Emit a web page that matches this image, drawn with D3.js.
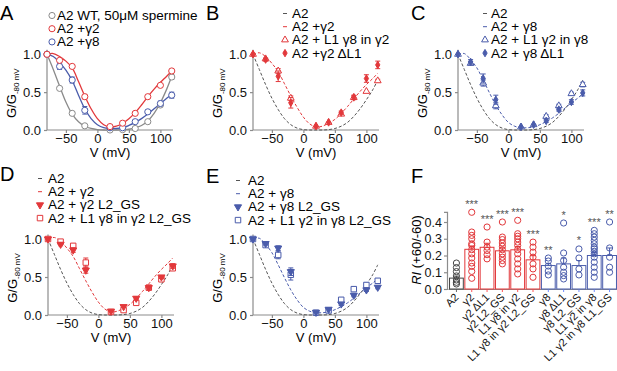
<!DOCTYPE html>
<html>
<head>
<meta charset="utf-8">
<script src="https://cdn.jsdelivr.net/npm/d3@7"></script>
<style>
  body { margin: 0; background: #fff; }
  svg { font-family: Arial, "Liberation Sans", Helvetica, sans-serif; }
</style>
</head>
<body>
<div id="chart-area"></div>
<script>
// ---------- Data ----------
const voltages = [-80, -60, -40, -20, 20, 40, 60, 80, 100, 118];
const fitVoltages = [-80, -70, -60, -50, -40, -30, -20, -10, 0, 10, 20, 30, 40, 50, 60, 70, 80, 90, 100, 110, 118];
const vTicks = [-50, 0, 50, 100];
const gTicks = [0, 0.5, 1];

// Panel A
const wtSpermine = [1.0, 0.55, 0.22, 0.055, 0.0, 0.005, 0.02, 0.11, 0.33, 0.70];
const wtSpermineErr = [0, 0.01, 0.01, 0.01, 0, 0, 0.01, 0.01, 0.02, 0.03];
const aGamma2 = [1.0, 0.92, 0.84, 0.44, 0.045, 0.09, 0.22, 0.44, 0.59, 0.78];
const aGamma2Err = [0, 0.02, 0.02, 0.03, 0.01, 0.01, 0.01, 0.01, 0.02, 0.02];
const aGamma8 = [1.0, 0.84, 0.66, 0.26, 0.03, 0.03, 0.11, 0.24, 0.35, 0.46];
const aGamma8Err = [0, 0.04, 0.04, 0.05, 0.01, 0.01, 0.02, 0.02, 0.03, 0.04];
const fitWtSpermine = [1.0, 0.8, 0.58, 0.37, 0.21, 0.11, 0.05, 0.02, 0.005, 0, 0, 0, 0.005, 0.01, 0.03, 0.06, 0.12, 0.22, 0.36, 0.54, 0.71];
const fitGamma2 = [1.0, 1.01, 0.97, 0.91, 0.82, 0.64, 0.45, 0.28, 0.15, 0.07, 0.04, 0.05, 0.09, 0.15, 0.23, 0.33, 0.44, 0.54, 0.63, 0.71, 0.78];
const fitGamma8 = [1.0, 0.97, 0.89, 0.79, 0.65, 0.46, 0.28, 0.15, 0.07, 0.03, 0.02, 0.02, 0.03, 0.06, 0.1, 0.15, 0.21, 0.28, 0.35, 0.42, 0.47];

// dashed reference fits (B-E)
const fitA2 = [1.0, 0.8, 0.6, 0.42, 0.27, 0.15, 0.07, 0.025, 0.005, 0, 0, 0, 0.005, 0.02, 0.05, 0.1, 0.18, 0.28, 0.4, 0.53, 0.66];
const fitG2Dash = [1.0, 1.02, 0.97, 0.88, 0.77, 0.61, 0.45, 0.3, 0.17, 0.08, 0.04, 0.05, 0.09, 0.14, 0.22, 0.31, 0.41, 0.51, 0.6, 0.68, 0.75];
const fitG8Dash = [1.0, 1.01, 0.93, 0.82, 0.66, 0.49, 0.33, 0.2, 0.1, 0.05, 0.03, 0.03, 0.04, 0.07, 0.11, 0.16, 0.22, 0.29, 0.36, 0.42, 0.48];

// Panel B
const bL1g8InG2 = [1.0, 0.94, 0.78, 0.42, 0.05, 0.1, 0.21, 0.43, 0.51, 0.65];
const bL1g8InG2Err = [0, 0.01, 0.03, 0.03, 0.01, 0.01, 0.01, 0.02, 0.01, 0.02];
const bG2dL1 = [1.0, 0.93, 0.71, 0.36, 0.05, 0.1, 0.23, 0.43, 0.68, 0.86];
const bG2dL1Err = [0, 0.02, 0.07, 0.07, 0.01, 0.01, 0.02, 0.03, 0.05, 0.05];

// Panel C
const cL1g2InG8 = [1.0, 0.88, 0.62, 0.32, 0.04, 0.07, 0.18, 0.32, 0.48, 0.6];
const cL1g2InG8Err = [0, 0.02, 0.04, 0.04, 0.01, 0.01, 0.02, 0.02, 0.02, 0.03];
const cG8dL1 = [1.0, 0.9, 0.68, 0.4, 0.04, 0.07, 0.12, 0.27, 0.37, 0.49];
const cG8dL1Err = [0, 0.03, 0.06, 0.06, 0.01, 0.01, 0.02, 0.02, 0.03, 0.04];

// Panel D
const dG2L2gs = [1.0, 0.93, 0.855, 0.59, 0.05, 0.11, 0.22, 0.36, 0.5, 0.645];
const dG2L2gsErr = [0, 0.02, 0.03, 0.04, 0.01, 0.01, 0.02, 0.02, 0.02, 0.03];
const dL1g8InG2L2gs = [1.0, 0.965, 0.91, 0.69, 0.04, 0.065, 0.16, 0.36, 0.47, 0.615];
const dL1g8InG2L2gsErr = [0, 0.01, 0.03, 0.06, 0.01, 0.01, 0.02, 0.03, 0.03, 0.03];

// Panel E
const eG8L2gs = [1.0, 0.94, 0.88, 0.57, 0.035, 0.075, 0.145, 0.26, 0.33, 0.365];
const eG8L2gsErr = [0, 0.02, 0.03, 0.05, 0.01, 0.01, 0.02, 0.02, 0.02, 0.02];
const eL1g2InG8L2gs = [1.0, 0.92, 0.79, 0.53, 0.03, 0.06, 0.2, 0.34, 0.395, 0.45];
const eL1g2InG8L2gsErr = [0, 0.02, 0.05, 0.07, 0.01, 0.01, 0.03, 0.03, 0.03, 0.03];

// Panel F
const riCategories = ['A2', 'γ2', 'γ2 ΔL1', 'γ2 L2_GS', 'L1 γ8 in γ2', 'L1 γ8 in γ2 L2_GS',
  'γ8', 'γ8 ΔL1', 'γ8 L2_GS', 'L1 γ2 in γ8', 'L1 γ2 in γ8 L1_GS'];
const riHost = ['A2', 'γ2', 'γ2', 'γ2', 'γ2', 'γ2', 'γ8', 'γ8', 'γ8', 'γ8', 'γ8'];
const riMean = [0.065, 0.237, 0.249, 0.228, 0.234, 0.174, 0.14, 0.15, 0.14, 0.2, 0.2];
const riSem = [0.012, 0.02, 0.024, 0.018, 0.02, 0.025, 0.012, 0.035, 0.03, 0.018, 0.045];
const riPoints = [
  [0.155, 0.128, 0.104, 0.078, 0.054, 0.04, 0.03],
  [0.458, 0.34, 0.32, 0.3, 0.27, 0.26, 0.235, 0.21, 0.185, 0.155, 0.135, 0.105, 0.064],
  [0.37, 0.28, 0.25, 0.23, 0.205, 0.18],
  [0.4, 0.31, 0.295, 0.275, 0.255, 0.235, 0.21, 0.19, 0.17, 0.15],
  [0.41, 0.33, 0.315, 0.3, 0.28, 0.26, 0.235, 0.21, 0.18, 0.15, 0.12, 0.09],
  [0.28, 0.25, 0.22, 0.19, 0.15, 0.12, 0.07],
  [0.185, 0.167, 0.137, 0.107, 0.084],
  [0.394, 0.215, 0.17, 0.13, 0.1, 0.08, 0.06],
  [0.239, 0.185, 0.12, 0.084],
  [0.35, 0.33, 0.31, 0.29, 0.27, 0.25, 0.24, 0.225, 0.21, 0.19, 0.16, 0.13, 0.1, 0.07],
  [0.4, 0.245, 0.19, 0.13, 0.1]
];
const riStars = ['', '***', '***', '***', '***', '***', '**', '*', '*', '***', '**'];
const riTicks = [0, 0.1, 0.2, 0.3, 0.4];

// ---------- Styles ----------
const RED = '#e2383b';
const BLUE = '#4a5cab';
const GREY = '#8a8a8a';
const AXIS = '#8c8c8c';
const hostColor = d3.scaleOrdinal().domain(['A2', 'γ2', 'γ8']).range(['#444', RED, BLUE]);

// ---------- SVG ----------
const svg = d3.select('#chart-area')
  .append('svg')
  .attr('width', 617)
  .attr('height', 371);

const symbolShapes = {
  circle: { type: d3.symbolCircle, size: 30, filled: false },
  triangle: { type: d3.symbolTriangle, size: 20, filled: false },
  diamond: { type: d3.symbolDiamond, size: 16, filled: true },
  triangleDown: { type: d3.symbolTriangle, size: 22, filled: true, rotate: 180 },
  square: { type: d3.symbolSquare, size: 30, filled: false }
};

const drawSymbol = (g, shape, color, cx, cy) => {
  const s = symbolShapes[shape];
  g.append('path')
    .attr('d', d3.symbol().type(s.type).size(s.size)())
    .attr('transform', 'translate(' + cx + ',' + cy + ')' + (s.rotate ? ' rotate(' + s.rotate + ')' : ''))
    .attr('fill', s.filled ? color : '#fff')
    .attr('stroke', color)
    .attr('stroke-width', 1);
};

const panelLetter = (letter, x, y) => {
  svg.append('text')
    .attr('x', x).attr('y', y)
    .attr('font-size', '20px')
    .text(letter);
};

// IV panel
const drawIV = (p) => {
  const g = svg.append('g');
  const x = d3.scaleLinear().domain([-80, 120]).range([p.left, p.left + 126]);
  const y = d3.scaleLinear().domain([0, 1.06]).range([p.bottom, p.bottom - 1.06 * p.unit]);

  const xAxis = g.append('g')
    .attr('transform', 'translate(0,' + p.bottom + ')')
    .call(d3.axisBottom(x).tickValues(vTicks).tickSize(3).tickPadding(1).tickFormat(d3.format('d')));
  const yAxis = g.append('g')
    .attr('transform', 'translate(' + p.left + ',0)')
    .call(d3.axisLeft(y).tickValues(gTicks).tickSize(3).tickPadding(3).tickFormat(d3.format('.1f')));
  [xAxis, yAxis].forEach((a) => {
    a.selectAll('path, line').attr('stroke', AXIS).attr('stroke-width', 1.2);
    a.selectAll('text').attr('font-size', '13px').attr('fill', '#111').attr('font-family', null);
  });
  xAxis.select('.domain').attr('d', 'M' + p.left + ',0H' + (p.left + 126));
  yAxis.select('.domain').attr('d', 'M0,' + y(0) + 'V' + y(1.06));

  // axis labels
  g.append('text')
    .attr('x', p.left + 63).attr('y', p.bottom + 27)
    .attr('text-anchor', 'middle')
    .attr('font-size', '13px')
    .text('V (mV)');
  const yl = g.append('text')
    .attr('transform', 'translate(' + (p.left - 31) + ',' + (y(0.5) + 1) + ') rotate(-90)')
    .attr('text-anchor', 'middle')
    .attr('font-size', '13px');
  yl.append('tspan').text('G/G');
  yl.append('tspan').attr('dy', 3).attr('font-size', '8px').text('-80 mV');

  // fitted curves
  const line = d3.line()
    .x((d) => x(d[0]))
    .y((d) => y(d[1]))
    .curve(d3.curveCatmullRom);
  p.fits.forEach((f) => {
    g.append('path')
      .datum(fitVoltages.map((v, i) => [v, f.values[i]]))
      .attr('d', line)
      .attr('fill', 'none')
      .attr('stroke', f.color)
      .attr('stroke-width', f.dash ? 1 : 1.3)
      .attr('stroke-dasharray', f.dash ? '3,2' : null);
  });

  // data points with error bars
  p.series.forEach((s) => {
    voltages.forEach((v, i) => {
      const e = s.err[i];
      if (e > 0.015) {
        const cx = x(v);
        const y1 = y(s.values[i] + e);
        const y2 = y(s.values[i] - e);
        g.append('path')
          .attr('d', 'M' + cx + ',' + y1 + 'V' + y2 + 'M' + (cx - 2.5) + ',' + y1 + 'H' + (cx + 2.5) + 'M' + (cx - 2.5) + ',' + y2 + 'H' + (cx + 2.5))
          .attr('stroke', s.color)
          .attr('stroke-width', 1)
          .attr('fill', 'none');
      }
    });
    voltages.forEach((v, i) => drawSymbol(g, s.shape, s.color, x(v), y(s.values[i])));
  });

  // legend
  p.legend.forEach((row, i) => {
    const ty = p.legendY + i * 13.2;
    if (row.shape === 'line') {
      g.append('line')
        .attr('x1', p.legendX - 2).attr('x2', p.legendX + 2)
        .attr('y1', ty - 4.5).attr('y2', ty - 4.5)
        .attr('stroke', row.color).attr('stroke-width', 1);
    } else {
      drawSymbol(g, row.shape, row.color, p.legendX, ty - 4.5);
    }
    g.append('text')
      .attr('x', p.legendTextX).attr('y', ty)
      .attr('font-size', '13.5px')
      .text(row.label);
  });
};

// ---------- Panels A-E ----------
drawIV({
  left: 47, bottom: 130, unit: 75.7,
  fits: [
    { values: fitWtSpermine, color: GREY },
    { values: fitGamma8, color: BLUE },
    { values: fitGamma2, color: RED }
  ],
  series: [
    { values: wtSpermine, err: wtSpermineErr, color: GREY, shape: 'circle' },
    { values: aGamma8, err: aGamma8Err, color: BLUE, shape: 'circle' },
    { values: aGamma2, err: aGamma2Err, color: RED, shape: 'circle' }
  ],
  legendX: 52, legendTextX: 57, legendY: 20,
  legend: [
    { shape: 'circle', color: GREY, label: 'A2 WT, 50μM spermine' },
    { shape: 'circle', color: RED, label: 'A2 +γ2' },
    { shape: 'circle', color: BLUE, label: 'A2 +γ8' }
  ]
});

drawIV({
  left: 253, bottom: 130, unit: 75.7,
  fits: [
    { values: fitA2, color: '#555', dash: true },
    { values: fitG2Dash, color: RED, dash: true }
  ],
  series: [
    { values: bL1g8InG2, err: bL1g8InG2Err, color: RED, shape: 'triangle' },
    { values: bG2dL1, err: bG2dL1Err, color: RED, shape: 'diamond' }
  ],
  legendX: 285, legendTextX: 292, legendY: 18,
  legend: [
    { shape: 'line', color: '#555', label: 'A2' },
    { shape: 'line', color: RED, label: 'A2 +γ2' },
    { shape: 'triangle', color: RED, label: 'A2 + L1 γ8 in γ2' },
    { shape: 'diamond', color: RED, label: 'A2 +γ2 ΔL1' }
  ]
});

drawIV({
  left: 458, bottom: 130, unit: 75.7,
  fits: [
    { values: fitA2, color: '#555', dash: true },
    { values: fitG8Dash, color: BLUE, dash: true }
  ],
  series: [
    { values: cL1g2InG8, err: cL1g2InG8Err, color: BLUE, shape: 'triangle' },
    { values: cG8dL1, err: cG8dL1Err, color: BLUE, shape: 'diamond' }
  ],
  legendX: 485, legendTextX: 491, legendY: 18,
  legend: [
    { shape: 'line', color: '#555', label: 'A2' },
    { shape: 'line', color: BLUE, label: 'A2 + γ8' },
    { shape: 'triangle', color: BLUE, label: 'A2 + L1 γ2 in γ8' },
    { shape: 'diamond', color: BLUE, label: 'A2 + γ8 ΔL1' }
  ]
});

drawIV({
  left: 48, bottom: 315, unit: 76,
  fits: [
    { values: fitA2, color: '#555', dash: true },
    { values: fitG2Dash, color: RED, dash: true }
  ],
  series: [
    { values: dL1g8InG2L2gs, err: dL1g8InG2L2gsErr, color: RED, shape: 'square' },
    { values: dG2L2gs, err: dG2L2gsErr, color: RED, shape: 'triangleDown' }
  ],
  legendX: 40, legendTextX: 48, legendY: 183,
  legend: [
    { shape: 'line', color: '#555', label: 'A2' },
    { shape: 'line', color: RED, label: 'A2 + γ2' },
    { shape: 'triangleDown', color: RED, label: 'A2 + γ2 L2_GS' },
    { shape: 'square', color: RED, label: 'A2 + L1 γ8 in γ2 L2_GS' }
  ]
});

drawIV({
  left: 253, bottom: 315, unit: 76,
  fits: [
    { values: fitA2, color: '#555', dash: true },
    { values: fitG8Dash, color: BLUE, dash: true }
  ],
  series: [
    { values: eL1g2InG8L2gs, err: eL1g2InG8L2gsErr, color: BLUE, shape: 'square' },
    { values: eG8L2gs, err: eG8L2gsErr, color: BLUE, shape: 'triangleDown' }
  ],
  legendX: 238, legendTextX: 248, legendY: 185,
  legend: [
    { shape: 'line', color: '#555', label: 'A2' },
    { shape: 'line', color: BLUE, label: 'A2 + γ8' },
    { shape: 'triangleDown', color: BLUE, label: 'A2 + γ8 L2_GS' },
    { shape: 'square', color: BLUE, label: 'A2 + L1 γ2 in γ8 L2_GS' }
  ]
});

// ---------- Panel F ----------
const fx = d3.scaleBand()
  .domain(riCategories)
  .range([448, 618])
  .paddingInner(0.1)
  .paddingOuter(0.1);
const fy = d3.scaleLinear().domain([0, 0.46]).range([289, 289 - 0.46 * 167.5]);
const fg = svg.append('g');

const fyAxis = fg.append('g')
  .attr('transform', 'translate(447,0)')
  .call(d3.axisLeft(fy).tickValues(riTicks).tickSize(3).tickPadding(2).tickFormat(d3.format('.1f')));
fyAxis.selectAll('path, line').attr('stroke', AXIS).attr('stroke-width', 1.2);
fyAxis.selectAll('text').attr('font-size', '12.5px').attr('fill', '#111').attr('font-family', null);

const fxAxis = fg.append('g')
  .attr('transform', 'translate(0,289)')
  .call(d3.axisBottom(fx).tickSize(3).tickSizeOuter(0));
fxAxis.select('.domain').attr('stroke', AXIS).attr('stroke-width', 1.2);
fxAxis.selectAll('.tick line').attr('stroke', (d, i) => d3.color(hostColor(riHost[i])).brighter(1.2));
fxAxis.selectAll('.tick text')
  .attr('font-size', '11px')
  .attr('font-family', null)
  .attr('fill', '#111')
  .attr('text-anchor', 'end')
  .attr('dy', 0)
  .attr('y', 0)
  .attr('transform', 'translate(3,9) rotate(-45)');

fg.append('text')
  .attr('transform', 'translate(421,250) rotate(-90)')
  .attr('text-anchor', 'middle')
  .attr('font-size', '13px')
  .call((t) => {
    t.append('tspan').attr('font-style', 'italic').text('RI');
    t.append('tspan').text(' (+60/-60)');
  });

riCategories.forEach((c, i) => {
  const color = hostColor(riHost[i]);
  const x0 = fx(c);
  const cx = x0 + fx.bandwidth() / 2;
  fg.append('rect')
    .attr('x', x0).attr('y', fy(riMean[i]))
    .attr('width', fx.bandwidth())
    .attr('height', 289 - fy(riMean[i]))
    .attr('fill', '#fff')
    .attr('stroke', color)
    .attr('stroke-width', 1);
  const top = fy(riMean[i] + riSem[i]);
  fg.append('path')
    .attr('d', 'M' + cx + ',' + fy(riMean[i]) + 'V' + top + 'M' + (cx - 2.5) + ',' + top + 'H' + (cx + 2.5))
    .attr('stroke', color).attr('fill', 'none');
  riPoints[i].forEach((v) => {
    fg.append('circle')
      .attr('cx', cx).attr('cy', fy(v))
      .attr('r', 3.1)
      .attr('fill', 'none')
      .attr('stroke', color)
      .attr('stroke-width', 1);
  });
  if (riStars[i]) {
    fg.append('text')
      .attr('x', cx).attr('y', fy(d3.max(riPoints[i])) - 4.5)
      .attr('text-anchor', 'middle')
      .attr('font-size', '11px')
      .attr('fill', '#555')
      .text(riStars[i]);
  }
});

// ---------- Panel letters ----------
panelLetter('A', 0, 20);
panelLetter('B', 206, 20);
panelLetter('C', 411, 20);
panelLetter('D', 0, 181);
panelLetter('E', 206, 183);
panelLetter('F', 411, 183);
</script>
</body>
</html>
